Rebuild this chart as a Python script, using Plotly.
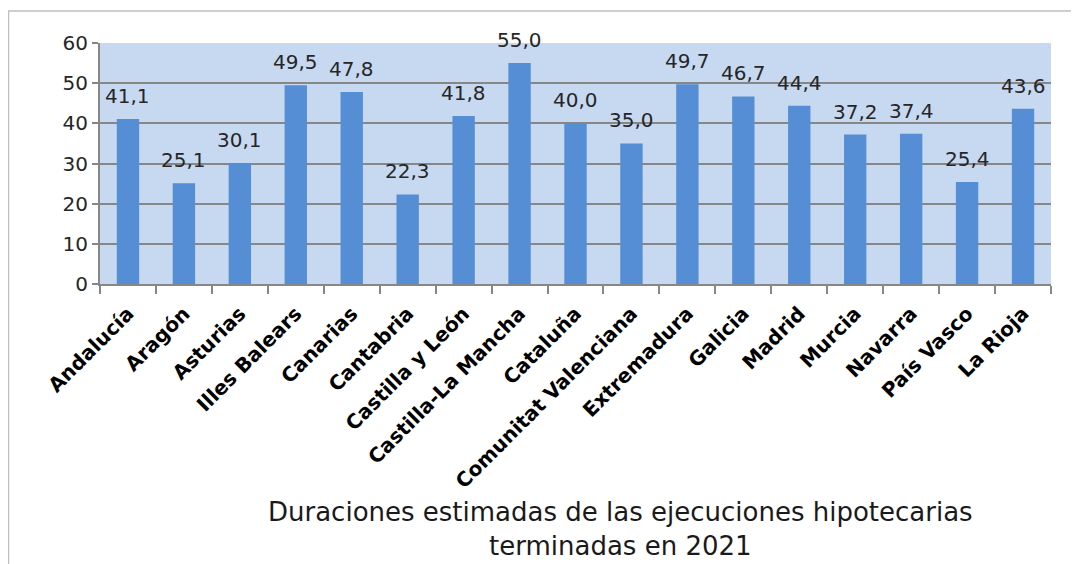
import plotly.graph_objects as go

regions = ["Andalucía", "Aragón", "Asturias", "Illes Balears", "Canarias", "Cantabria",
           "Castilla y León", "Castilla-La Mancha", "Cataluña", "Comunitat Valenciana",
           "Extremadura", "Galicia", "Madrid", "Murcia", "Navarra", "País Vasco", "La Rioja"]
values = [41.1, 25.1, 30.1, 49.5, 47.8, 22.3, 41.8, 55.0, 40.0, 35.0,
          49.7, 46.7, 44.4, 37.2, 37.4, 25.4, 43.6]
labels = [f"{v:.1f}".replace(".", ",") for v in values]
title_text = "Duraciones estimadas de las ejecuciones hipotecarias<br>terminadas en 2021"

fig = go.Figure()
fig.add_trace(go.Bar(
    x=regions, y=values,
    marker=dict(color="#558ed5", line=dict(width=0)),
    cliponaxis=False,
))

annotations = [dict(
    x=r, y=v, text=t, xref="x", yref="y", showarrow=False,
    xanchor="center", yanchor="bottom", yshift=9,
    font=dict(family="DejaVu Sans", size=20, color="#262626"),
) for r, v, t in zip(regions, values, labels)]

annotations.append(dict(
    text=title_text, xref="paper", yref="paper", x=0.547, y=-1.017,
    xanchor="center", yanchor="middle", showarrow=False,
    font=dict(family="DejaVu Sans", size=26, color="#1a1a1a"),
))

fig.update_layout(
    width=1071, height=556,
    margin=dict(l=92, r=28, t=35, b=280),
    paper_bgcolor="white", plot_bgcolor="#c6d9f1",
    bargap=0.6, showlegend=False,
    xaxis=dict(
        tickangle=-45, tickfont=dict(family="DejaVu Sans", size=20, color="black", weight="bold"),
        ticklabelstandoff=8,
        showline=True, linecolor="#878787", linewidth=2,
        ticks="outside", ticklen=8, tickcolor="#878787", tickwidth=2,
        tickson="boundaries", showgrid=False,
    ),
    yaxis=dict(
        range=[0, 60], dtick=10, tickfont=dict(family="DejaVu Sans", size=20, color="#262626"),
        showline=True, linecolor="#878787", linewidth=2,
        showgrid=True, gridcolor="#878787", gridwidth=2,
        ticks="outside", ticklen=6, tickcolor="#878787", tickwidth=2,
        zeroline=False,
    ),
    annotations=annotations,
    shapes=[dict(type="rect", xref="paper", yref="paper", x0=-0.0962, x1=1.1, y0=-2, y1=1.1328,
                 line=dict(color="#bfbfbf", width=1.5), layer="below")],
)

fig.write_html("out.html")
